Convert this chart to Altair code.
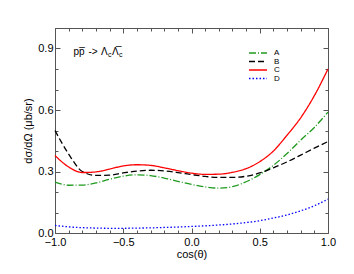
import altair as alt
import pandas as pd

# ---- data ----
cos_theta = [-1.0, -0.9, -0.8, -0.7, -0.6, -0.5, -0.4, -0.3, -0.2, -0.1, 0.0,
             0.1, 0.2, 0.3, 0.4, 0.5, 0.6, 0.7, 0.8, 0.9, 1.0]
series_A = [0.248, 0.233, 0.234, 0.244, 0.262, 0.277, 0.284, 0.280, 0.268, 0.252, 0.237,
            0.225, 0.219, 0.226, 0.250, 0.285, 0.330, 0.388, 0.453, 0.515, 0.590]
series_B = [0.500, 0.385, 0.300, 0.281, 0.282, 0.293, 0.302, 0.306, 0.303, 0.295, 0.285,
            0.276, 0.271, 0.271, 0.277, 0.293, 0.318, 0.347, 0.380, 0.414, 0.446]
series_C = [0.378, 0.322, 0.295, 0.298, 0.312, 0.327, 0.333, 0.330, 0.318, 0.304, 0.292,
            0.286, 0.287, 0.296, 0.314, 0.348, 0.400, 0.477, 0.562, 0.670, 0.800]
series_D = [0.037, 0.030, 0.026, 0.024, 0.023, 0.023, 0.024, 0.025, 0.027, 0.029, 0.032,
            0.035, 0.039, 0.044, 0.051, 0.060, 0.073, 0.088, 0.108, 0.133, 0.165]
series_names = ["A", "B", "C", "D"]

x_major = [-1.0, -0.5, 0.0, 0.5, 1.0]
x_minor = [-0.9, -0.8, -0.7, -0.6, -0.4, -0.3, -0.2, -0.1,
           0.1, 0.2, 0.3, 0.4, 0.6, 0.7, 0.8, 0.9]
y_major = [0.0, 0.3, 0.6, 0.9]
y_minor = [0.1, 0.2, 0.4, 0.5, 0.7, 0.8, 1.0]

rows = []
for name, vals in zip(series_names, [series_A, series_B, series_C, series_D]):
    for xv, yv in zip(cos_theta, vals):
        rows.append({"x": xv, "v": yv, "series": name})
df = pd.DataFrame(rows)

W, H = 273, 205
FONT = "Liberation Sans"
AXC = "#555555"

xs = alt.Scale(domain=[-1, 1], nice=False, zero=False)
ys = alt.Scale(domain=[0, 1.0], nice=False, zero=False)

colors = ["#1f9a1f", "#000000", "#ff0000", "#0000ff"]
dashes = [[7, 2, 1, 2], [6, 3], [1, 0], [1.5, 2]]

leg = alt.Legend(title=None, orient="none", legendX=199, legendY=21,
                 symbolType="M-3,0H3", symbolSize=36, symbolStrokeWidth=1.3,
                 labelFontSize=8, labelFont=FONT, rowPadding=0.5, padding=0,
                 labelOffset=12)

lines = alt.Chart(df).mark_line(strokeWidth=1.3, interpolate="monotone").encode(
    x=alt.X("x:Q", scale=xs,
            axis=alt.Axis(values=x_major, format=".1f", ticks=False, domain=False,
                          grid=False, title="cos(θ)", labelFontSize=11, titleFontSize=11,
                          labelFont=FONT, titleFont=FONT, titleFontWeight="normal",
                          labelPadding=3, titlePadding=1, labelColor="black",
                          labelFlush=False)),
    y=alt.Y("v:Q", scale=ys,
            axis=alt.Axis(values=y_major, format=".1f", ticks=False, domain=False,
                          grid=False, title="dσ/dΩ (μb/sr)", labelFontSize=11,
                          titleFontSize=11, labelFont=FONT, titleFont=FONT,
                          titleFontWeight="normal", labelPadding=2, titlePadding=4,
                          labelColor="black", labelFlush=False)),
    color=alt.Color("series:N", scale=alt.Scale(domain=series_names, range=colors), legend=leg),
    strokeDash=alt.StrokeDash("series:N", scale=alt.Scale(domain=series_names, range=dashes), legend=leg),
)


def tick_layer(x_orient, y_orient, xvals, yvals, size):
    return alt.Chart(df).mark_point(opacity=0).encode(
        x=alt.X("x:Q", scale=xs,
                axis=alt.Axis(orient=x_orient, offset=-H, values=xvals, labels=False,
                              domain=False, grid=False, tickSize=size, tickColor=AXC,
                              title=None)),
        y=alt.Y("v:Q", scale=ys,
                axis=alt.Axis(orient=y_orient, offset=-W, values=yvals, labels=False,
                              domain=False, grid=False, tickSize=size, tickColor=AXC,
                              title=None)),
    )


ticks = [
    tick_layer("top", "right", x_major, y_major, 5),
    tick_layer("bottom", "left", x_major, y_major, 5),
    tick_layer("top", "right", x_minor, y_minor, 3),
    tick_layer("bottom", "left", x_minor, y_minor, 3),
]

one = pd.DataFrame({"k": [0]})


def label_piece(txt, dx, dy, size):
    return alt.Chart(one).mark_text(text=txt, align="left", baseline="middle", dx=dx, dy=dy,
                                    fontSize=size, font=FONT, color="black").encode(
        x=alt.XDatum(-1.0, scale=xs, axis=None),
        y=alt.YDatum(0.885, scale=ys, axis=None),
    )


title_parts = [
    label_piece("pp\u0305", 18.5, 0, 10),
    label_piece("->", 33.5, 0, 10),
    label_piece("Λ", 46, 0, 10),
    label_piece("c", 53, 3, 7),
    label_piece("Λ\u0305", 57, 0, 10),
    label_piece("c", 64, 3, 7),
]

chart = alt.layer(lines, *ticks, *title_parts).resolve_axis(
    x="independent", y="independent"
).properties(
    width=W, height=H,
    autosize=alt.AutoSizeParams(type="none"),
    padding={"left": 47, "top": 20, "right": 10, "bottom": 30},
).configure_view(stroke=AXC, strokeWidth=1)

chart.save("out.html", embed_options={"renderer": "svg", "actions": False})
